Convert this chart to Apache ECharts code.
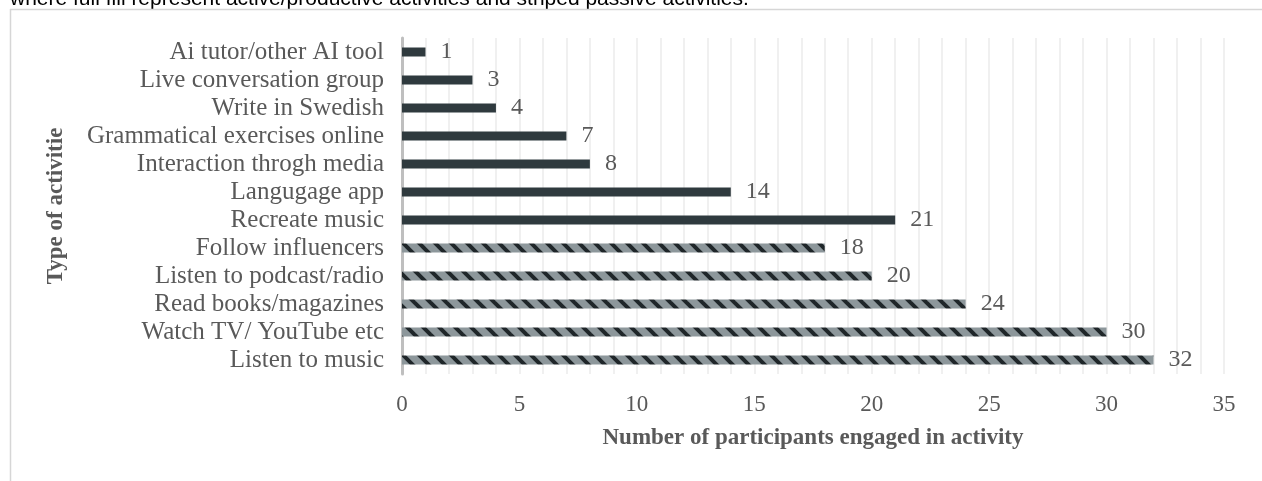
<!DOCTYPE html>
<html>
<head>
<meta charset="utf-8">
<script src="https://cdn.jsdelivr.net/npm/echarts@6/dist/echarts.min.js"></script>
<style>
  html, body { margin: 0; padding: 0; background: #fff; }
  #chart { width: 1262px; height: 481px; }
</style>
</head>
<body>
<div id="chart"></div>
<script>
  // top to bottom, as in the picture
  var categories = ['Ai tutor/other AI tool', 'Live conversation group', 'Write in Swedish',
    'Grammatical exercises online', 'Interaction throgh media', 'Langugage app', 'Recreate music',
    'Follow influencers', 'Listen to podcast/radio', 'Read books/magazines',
    'Watch TV/ YouTube etc', 'Listen to music']
  var values = [1, 3, 4, 7, 8, 14, 21, 18, 20, 24, 30, 32]
  // 'active' = full fill, 'passive' = striped
  var kinds = ['active', 'active', 'active', 'active', 'active', 'active', 'active',
    'passive', 'passive', 'passive', 'passive', 'passive']
  var xTicks = [0, 5, 10, 15, 20, 25, 30, 35]

  var textColor = '#595959'
  var serif = '"Liberation Serif", "Times New Roman", serif'

  // striped fill: gray with dark downward diagonals
  function stripePattern() {
    var c = document.createElement('canvas')
    c.width = 16
    c.height = 16
    var ctx = c.getContext('2d')
    ctx.fillStyle = '#8d979b'
    ctx.fillRect(0, 0, 16, 16)
    ctx.strokeStyle = '#1f2629'
    ctx.lineWidth = 4
    for (var k = -16; k <= 16; k += 16) {
      ctx.beginPath()
      ctx.moveTo(k - 2, -2)
      ctx.lineTo(k + 18, 18)
      ctx.stroke()
    }
    return c
  }
  var stripe = { image: stripePattern(), repeat: 'repeat' }

  var barData = []
  for (var i = 0; i < values.length; i++) {
    barData.push({
      value: values[i],
      itemStyle: { color: kinds[i] === 'active' ? '#2f3a3e' : stripe }
    })
  }

  var chart = echarts.init(document.getElementById('chart'), null, { renderer: 'canvas' })
  chart.setOption({
    backgroundColor: '#fff',
    animation: false,
    graphic: [
      {
        type: 'text', left: 10, top: -11,
        style: {
          text: 'where full fill represent active/productive activities and striped passive activities.',
          font: '21px "Liberation Sans", Arial, sans-serif', fill: '#000'
        }
      },
      { type: 'line', shape: { x1: 10, y1: 9.5, x2: 1262, y2: 9.5 }, style: { stroke: '#d6d6d6', lineWidth: 1.5 } },
      { type: 'line', shape: { x1: 10.5, y1: 9, x2: 10.5, y2: 481 }, style: { stroke: '#d6d6d6', lineWidth: 1.5 } }
    ],
    grid: {
      left: 402,
      right: 38,
      top: 38,
      bottom: 107,
      containLabel: false
    },
    xAxis: {
      type: 'value',
      min: xTicks[0],
      max: xTicks[xTicks.length - 1],
      interval: 5,
      name: 'Number of participants engaged in activity',
      nameLocation: 'middle',
      nameGap: 53,
      nameTextStyle: { color: textColor, fontFamily: serif, fontSize: 23, fontWeight: 'bold' },
      axisLine: { show: false },
      axisTick: { show: false },
      axisLabel: { color: textColor, fontFamily: serif, fontSize: 23, margin: 19 },
      splitLine: { show: true, lineStyle: { color: '#ebebeb', width: 1.5 } },
      minorTick: { show: false, splitNumber: 5 },
      minorSplitLine: { show: true, lineStyle: { color: '#ebebeb', width: 1.5 } }
    },
    yAxis: {
      type: 'category',
      data: categories,
      inverse: true,
      name: 'Type of activitie',
      nameLocation: 'middle',
      nameGap: 334,
      nameRotate: 90,
      nameTextStyle: { color: textColor, fontFamily: serif, fontSize: 23, fontWeight: 'bold' },
      axisLine: { show: true, lineStyle: { color: '#bfbfbf', width: 3 } },
      axisTick: { show: false },
      axisLabel: { interval: 0, color: textColor, fontFamily: serif, fontSize: 25, margin: 18 },
      splitLine: { show: false }
    },
    series: [
      {
        type: 'bar',
        data: barData,
        barWidth: 9,
        label: {
          show: true,
          position: 'right',
          distance: 15,
          color: textColor,
          fontFamily: serif,
          fontSize: 24
        }
      }
    ]
  })
</script>
</body>
</html>
